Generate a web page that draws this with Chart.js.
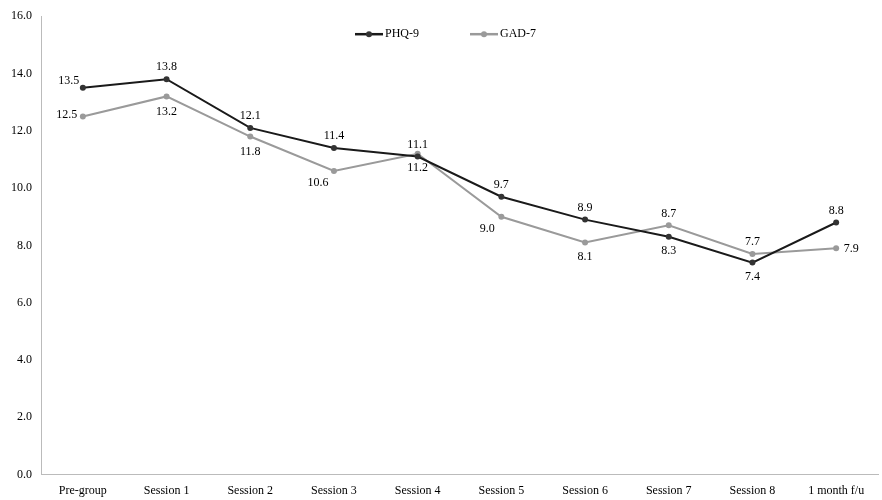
<!DOCTYPE html>
<html>
<head>
<script src="https://cdn.jsdelivr.net/npm/chart.js@4"></script>
<style>
html, body { margin: 0; padding: 0; background: #fff; }
#wrap { width: 882px; height: 500px; }
</style>
</head>
<body>
<div id="wrap"><canvas id="chart"></canvas></div>
<script>
const categories = ['Pre-group', 'Session 1', 'Session 2', 'Session 3', 'Session 4', 'Session 5', 'Session 6', 'Session 7', 'Session 8', '1 month f/u'];
const phqValues = [13.5, 13.8, 12.1, 11.4, 11.1, 9.7, 8.9, 8.3, 7.4, 8.8];
const gadValues = [12.5, 13.2, 11.8, 10.6, 11.2, 9.0, 8.1, 8.7, 7.7, 7.9];
// label placement per point (dx, dy in px)
const phqLabelPos = [[-14,-7],[0,-12],[0,-12],[0,-12],[0,-12],[0,-12],[0,-12],[0,14],[0,14],[0,-12]];
const gadLabelPos = [[-16,-2],[0,15],[0,15],[-16,12],[0,14],[-14,12],[0,14],[0,-12],[0,-12],[15,1]];

const labelPlugin = {
    id: 'pointLabels',
    afterDatasetsDraw(chart) {
        const ctx = chart.ctx;
        ctx.save();
        ctx.font = '12px "Liberation Serif", serif';
        ctx.fillStyle = '#000';
        ctx.textAlign = 'center';
        ctx.textBaseline = 'middle';
        [phqLabelPos, gadLabelPos].forEach(function(pos, di) {
            const meta = chart.getDatasetMeta(di);
            meta.data.forEach(function(pt, i) {
                const v = chart.data.datasets[di].data[i];
                ctx.fillText(v.toFixed(1), pt.x + pos[i][0], pt.y + pos[i][1]);
            });
        });
        // legend inside the plot, top centre
        ctx.textAlign = 'left';
        ctx.font = '12px "Liberation Serif", serif';
        const legendY = chart.chartArea.top + 18;
        const legendX = [355, 470];
        chart.data.datasets.forEach(function(ds, di) {
            const x = legendX[di];
            ctx.strokeStyle = ds.borderColor;
            ctx.lineWidth = 2.5;
            ctx.beginPath();
            ctx.moveTo(x, legendY);
            ctx.lineTo(x + 28, legendY);
            ctx.stroke();
            ctx.fillStyle = ds.backgroundColor;
            ctx.beginPath();
            ctx.arc(x + 14, legendY, 3, 0, Math.PI * 2);
            ctx.fill();
            ctx.fillStyle = '#000';
            ctx.fillText(ds.label, x + 30, legendY);
        });
        ctx.restore();
    }
};

Chart.defaults.font.family = '"Liberation Serif", serif';
Chart.defaults.font.size = 12;
Chart.defaults.color = '#000';

new Chart(document.getElementById('chart'), {
    type: 'line',
    data: {
        labels: categories,
        datasets: [{
            label: 'PHQ-9',
            data: phqValues,
            borderColor: '#1a1a1a',
            backgroundColor: '#333',
            borderWidth: 2,
            pointRadius: 3,
            pointBorderWidth: 0,
            tension: 0
        }, {
            label: 'GAD-7',
            data: gadValues,
            borderColor: '#9a9a9a',
            backgroundColor: '#9a9a9a',
            borderWidth: 2,
            pointRadius: 3,
            pointBorderWidth: 0,
            tension: 0
        }]
    },
    options: {
        responsive: true,
        maintainAspectRatio: false,
        animation: false,
        layout: { padding: { top: 8, right: 4, left: 2, bottom: -7 } },
        plugins: {
            legend: { display: false },
            tooltip: { enabled: false }
        },
        scales: {
            x: {
                offset: true,
                grid: { display: false, drawTicks: false },
                border: { color: '#bbb' },
                ticks: { padding: 9 }
            },
            y: {
                min: 0,
                max: 16,
                grid: { display: false, drawTicks: false },
                border: { color: '#bbb' },
                ticks: { stepSize: 2, padding: 9, callback: v => v.toFixed(1) }
            }
        }
    },
    plugins: [labelPlugin]
});
</script>
</body>
</html>
